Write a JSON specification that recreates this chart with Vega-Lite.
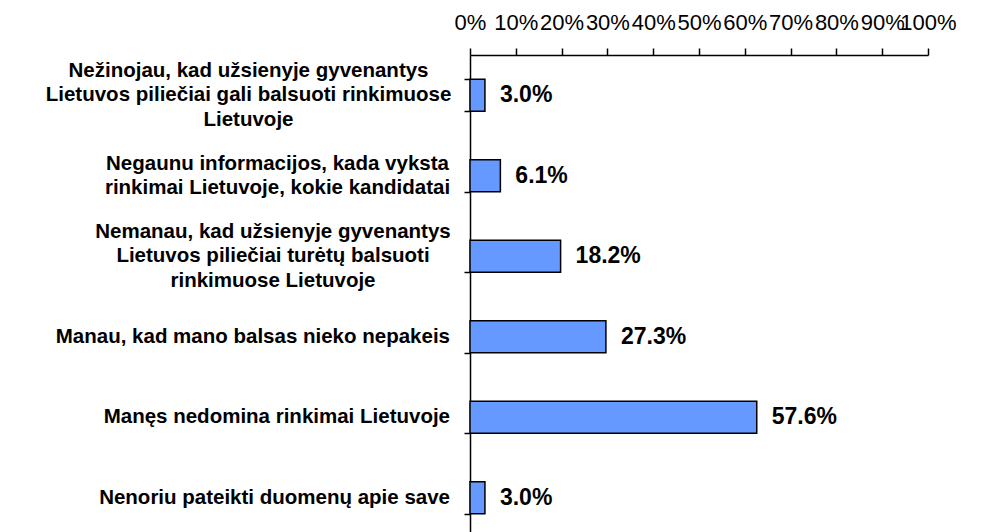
{
  "$schema": "https://vega.github.io/schema/vega-lite/v6.json",
  "width": 458,
  "height": 483,
  "autosize": "none",
  "padding": {"left": 470, "top": 55, "right": 75, "bottom": 0},
  "background": "#ffffff",
  "config": {"view": {"stroke": null}},
  "data": {
    "values": [
      {"label": "Nežinojau, kad užsienyje gyvenantys|Lietuvos piliečiai gali balsuoti rinkimuose|Lietuvoje", "value": 0.030},
      {"label": "Negaunu informacijos, kada vyksta|rinkimai Lietuvoje, kokie kandidatai", "value": 0.061},
      {"label": "Nemanau, kad užsienyje gyvenantys|Lietuvos piliečiai turėtų balsuoti|rinkimuose Lietuvoje", "value": 0.182},
      {"label": "Manau, kad mano balsas nieko nepakeis", "value": 0.273},
      {"label": "Manęs nedomina rinkimai Lietuvoje", "value": 0.576},
      {"label": "Nenoriu pateikti duomenų apie save", "value": 0.030}
    ]
  },
  "layer": [
    {
      "mark": {"type": "bar", "fill": "#6699ff", "stroke": "#000000", "strokeWidth": 1.5},
      "encoding": {
        "y": {
          "field": "label", "type": "nominal", "sort": null,
          "scale": {
            "domain": [
              "Nežinojau, kad užsienyje gyvenantys|Lietuvos piliečiai gali balsuoti rinkimuose|Lietuvoje",
              "Negaunu informacijos, kada vyksta|rinkimai Lietuvoje, kokie kandidatai",
              "Nemanau, kad užsienyje gyvenantys|Lietuvos piliečiai turėtų balsuoti|rinkimuose Lietuvoje",
              "Manau, kad mano balsas nieko nepakeis",
              "Manęs nedomina rinkimai Lietuvoje",
              "Nenoriu pateikti duomenų apie save"
            ],
            "paddingInner": 0.6, "paddingOuter": 0.3
          },
          "axis": {
            "title": null,
            "labels": false,
            "tickBand": "extent",
            "domainColor": "#000000", "domainWidth": 1.5,
            "tickColor": "#000000", "tickWidth": 1.5, "tickSize": 6
          }
        },
        "x": {"field": "value", "type": "quantitative", "scale": {"domain": [0, 0.92]}, "axis": null}
      }
    },
    {
      "mark": {"type": "text", "align": "left", "baseline": "middle", "dx": 15, "font": "Liberation Sans", "fontWeight": "bold", "fontSize": 23, "color": "#000000"},
      "encoding": {
        "y": {"field": "label", "type": "nominal", "sort": null},
        "x": {"field": "value", "type": "quantitative", "scale": {"domain": [0, 0.92]}, "axis": null},
        "text": {"field": "value", "type": "quantitative", "format": ".1%"}
      }
    },
    {
      "transform": [{"filter": "indexof(datum.label, '|') < 0"}],
      "mark": {"type": "text", "align": "right", "baseline": "middle", "dx": -20, "font": "Liberation Sans", "fontWeight": "bold", "fontSize": 20.5, "color": "#000000"},
      "encoding": {
        "y": {"field": "label", "type": "nominal", "sort": null},
        "x": {"datum": 0, "type": "quantitative", "scale": {"domain": [0, 0.92]}, "axis": null},
        "text": {"field": "label", "type": "nominal"}
      }
    },
    {
      "transform": [{"filter": "indexof(datum.label, 'gali') >= 0"}],
      "mark": {"type": "text", "align": "center", "baseline": "middle", "dx": -221.5, "dy": -24.5, "lineBreak": "|", "lineHeight": 24.5, "font": "Liberation Sans", "fontWeight": "bold", "fontSize": 20.5, "color": "#000000"},
      "encoding": {
        "y": {"field": "label", "type": "nominal", "sort": null},
        "x": {"datum": 0, "type": "quantitative", "scale": {"domain": [0, 0.92]}, "axis": null},
        "text": {"field": "label", "type": "nominal"}
      }
    },
    {
      "transform": [{"filter": "indexof(datum.label, 'Negaunu') >= 0"}],
      "mark": {"type": "text", "align": "center", "baseline": "middle", "dx": -192.5, "dy": -12.25, "lineBreak": "|", "lineHeight": 24.5, "font": "Liberation Sans", "fontWeight": "bold", "fontSize": 20.5, "color": "#000000"},
      "encoding": {
        "y": {"field": "label", "type": "nominal", "sort": null},
        "x": {"datum": 0, "type": "quantitative", "scale": {"domain": [0, 0.92]}, "axis": null},
        "text": {"field": "label", "type": "nominal"}
      }
    },
    {
      "transform": [{"filter": "indexof(datum.label, 'Nemanau') >= 0"}],
      "mark": {"type": "text", "align": "center", "baseline": "middle", "dx": -197, "dy": -24.5, "lineBreak": "|", "lineHeight": 24.5, "font": "Liberation Sans", "fontWeight": "bold", "fontSize": 20.5, "color": "#000000"},
      "encoding": {
        "y": {"field": "label", "type": "nominal", "sort": null},
        "x": {"datum": 0, "type": "quantitative", "scale": {"domain": [0, 0.92]}, "axis": null},
        "text": {"field": "label", "type": "nominal"}
      }
    },
    {
      "mark": {"type": "tick", "opacity": 0},
      "encoding": {
        "y": {"field": "label", "type": "nominal", "sort": null},
        "x": {
          "field": "value", "type": "quantitative",
          "scale": {"domain": [0, 1], "nice": false},
          "axis": {
            "orient": "top", "title": null, "grid": false,
            "values": [0, 0.1, 0.2, 0.3, 0.4, 0.5, 0.6, 0.7, 0.8, 0.9, 1],
            "format": ".0%",
            "domainColor": "#000000", "domainWidth": 1.5,
            "tickColor": "#000000", "tickWidth": 1.5, "tickSize": 7,
            "labelPadding": 14, "labelFont": "Liberation Sans", "labelFontSize": 22,
            "labelColor": "#000000", "labelOverlap": false, "labelFlush": false, "labelBound": false
          }
        }
      }
    }
  ],
  "resolve": {"scale": {"x": "independent"}}
}
